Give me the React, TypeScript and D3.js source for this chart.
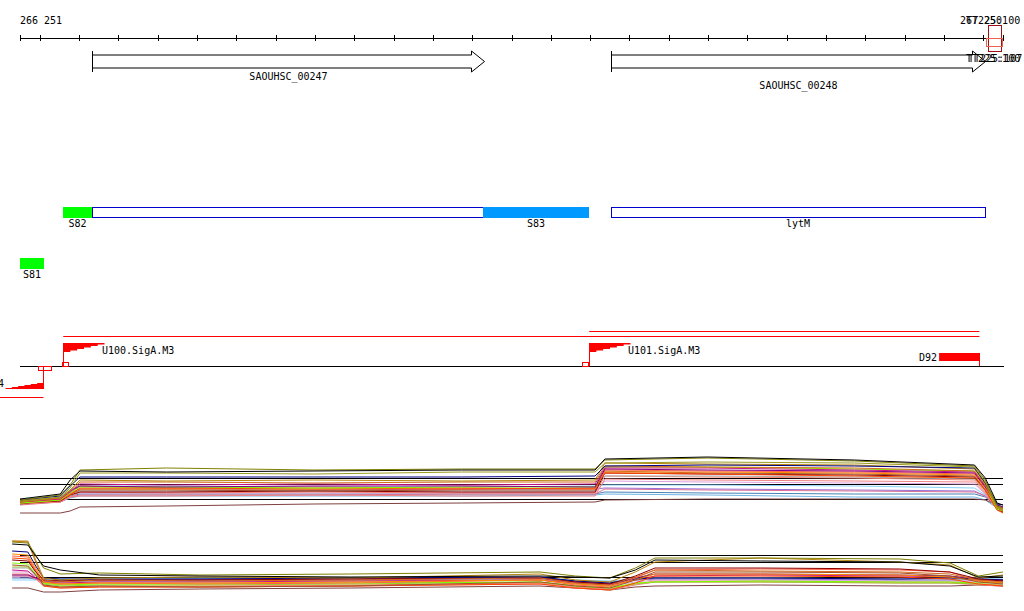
import React from "react";
import * as d3 from "d3";

// ---------- axis / genome ----------
const genomeStart = 266251;
const genomeEnd = 267251;
const startLabel = "266 251";
const endLabel = "267 250";
const markerLabelTop = "TT225:100";
const markerLabelA = "TT225:107";
const markerLabelB = "TT225:100";

// ---------- genes (start, end, label) ----------
const geneNames = ["SAOUHSC_00247", "SAOUHSC_00248"];
const geneStarts = [266324, 266852];
const geneEnds = [266723, 267233];
const geneLabelRows = [0, 1];

// ---------- transcript segments ----------
const segNames = ["S82", "", "S83", "lytM", "S81"];
const segStarts = [266295, 266324, 266722, 266852, 266251];
const segEnds = [266324, 266722, 266830, 267233, 266275];
const segFills = ["#00ff00", "#ffffff", "#0099ff", "#ffffff", "#00ff00"];
const segRows = [0, 0, 0, 0, 1];

// ---------- promoters / terminators ----------
const promoterNames = ["U100.SigA.M3", "U101.SigA.M3"];
const promoterPos = [266295, 266830];
const terminatorName = "D92";
const terminatorStart = 267186;
const terminatorEnd = 267227;
const revPromoterName = "4";
const revPromoterPos = 266274;
const redSpanStarts = [266295, 266830];
const redSpanEnds = [267227, 267227];

// ---------- expression panel 1 ----------
const p1Pos = [266251, 266292, 266302, 266312, 266400, 266550, 266700, 266836, 266846, 266950, 267100, 267222, 267233, 267245, 267251];
const p1Olive = [20, 25, 35, 50, 52, 50, 51, 51, 60, 62, 59, 54, 40, 14, 12];
const p1Black = [21, 26, 40, 49, 48, 49, 50, 50, 61, 63, 60, 55, 42, 17, 15];
const p1OliveDrab = [19, 23, 32, 47, 47, 46, 48, 48, 57, 58, 57, 53, 38, 13, 10];
const p1Navy = [20, 24, 34, 43, 43, 43, 43, 44, 54, 55, 54, 52, 37, 16, 15];
const p1Gold = [18, 22, 30, 40, 39, 40, 39, 40, 57, 56, 55, 51, 36, 12, 9];
const p1Chocolate = [19, 22, 29, 38, 38, 37, 38, 38, 54, 53, 52, 49, 35, 13, 11];
const p1Crimson = [18, 21, 28, 36, 35, 36, 35, 36, 52, 52, 50, 48, 34, 14, 12];
const p1Purple = [19, 22, 29, 34, 33, 34, 34, 33, 51, 50, 49, 47, 33, 15, 13];
const p1Lawn = [17, 20, 27, 33, 33, 32, 33, 33, 53, 53, 51, 49, 34, 11, 9];
const p1Tomato = [18, 21, 27, 34, 32, 33, 32, 31, 50, 49, 48, 46, 32, 12, 10];
const p1Orange = [17, 20, 26, 31, 31, 31, 32, 31, 48, 48, 47, 45, 31, 13, 11];
const p1Sienna = [16, 20, 26, 30, 30, 29, 30, 30, 49, 47, 46, 44, 30, 12, 10];
const p1DarkRed = [17, 19, 25, 28, 28, 29, 28, 28, 47, 46, 45, 43, 30, 11, 8];
const p1Sky = [20, 23, 30, 34, 34, 33, 33, 34, 35, 35, 34, 32, 25, 15, 13];
const p1Grey = [18, 21, 26, 29, 29, 30, 29, 29, 44, 44, 43, 41, 29, 14, 12];
const p1Salmon = [16, 18, 23, 28, 27, 28, 27, 27, 44, 43, 42, 40, 28, 11, 9];
const p1Lilac = [19, 22, 27, 31, 31, 30, 31, 31, 32, 31, 30, 29, 24, 14, 12];
const p1Steel = [17, 20, 24, 26, 26, 26, 26, 26, 28, 27, 26, 26, 23, 13, 11];
const p1LightBlue = [16, 18, 22, 24, 24, 24, 24, 25, 26, 25, 23, 23, 20, 12, 10];
const p1Pink = [15, 18, 23, 25, 25, 25, 26, 26, 31, 30, 29, 28, 24, 11, 8];
const p1Coral = [16, 19, 23, 24, 24, 25, 24, 24, 41, 40, 39, 38, 27, 10, 8];
const p1Brown = [7, 7, 9, 13, 14, 16, 17, 18, 20, 21, 21, 21, 20, 15, 13];
const p1OrangeRed = [18, 20, 25, 32, 32, 31, 31, 32, 47, 46, 44, 42, 30, 10, 7];
const p1Plum = [17, 20, 25, 27, 27, 27, 27, 27, 39, 38, 37, 36, 26, 12, 9];
const p1RefLines = [42, 36, 21];

// ---------- expression panel 2 ----------
const p2Pos = [266243, 266259, 266267, 266275, 266292, 266332, 266434, 266587, 266780, 266816, 266851, 266877, 266897, 267004, 267146, 267197, 267226, 267251];
const p2Olive = [58, 57, 45, 32, 26, 27, 25, 26, 28, 24, 22, 32, 42, 42, 41, 37, 24, 28];
const p2Black = [56, 55, 44, 34, 30, 25, 24, 23, 24, 23, 22, 30, 40, 39, 38, 34, 23, 24];
const p2Gold = [59, 59, 40, 22, 20, 22, 23, 22, 26, 20, 18, 28, 38, 42, 38, 35, 22, 25];
const p2Chocolate = [59, 58, 38, 20, 18, 20, 19, 20, 22, 17, 15, 23, 30, 29, 28, 26, 20, 18];
const p2Navy = [49, 48, 34, 22, 21, 21, 21, 22, 23, 19, 17, 21, 22, 22, 21, 22, 21, 20];
const p2Tomato = [44, 43, 30, 18, 16, 17, 16, 17, 20, 15, 13, 22, 30, 31, 30, 28, 19, 17];
const p2Sienna = [35, 34, 25, 15, 13, 14, 13, 14, 18, 14, 12, 20, 28, 28, 27, 24, 18, 16];
const p2Lawn = [37, 36, 26, 17, 15, 16, 16, 17, 18, 14, 12, 17, 18, 19, 18, 18, 17, 18];
const p2Crimson = [30, 29, 22, 18, 17, 18, 18, 19, 20, 17, 15, 20, 24, 25, 24, 23, 20, 19];
const p2Purple = [25, 25, 22, 19, 19, 20, 20, 21, 22, 18, 16, 22, 26, 26, 25, 24, 21, 20];
const p2Sky = [20, 20, 20, 21, 21, 21, 22, 22, 22, 20, 19, 21, 22, 22, 21, 22, 22, 21];
const p2Steel = [22, 22, 21, 20, 20, 20, 21, 21, 22, 19, 18, 20, 21, 21, 20, 20, 21, 20];
const p2Brown = [12, 12, 10, 8, 8, 10, 11, 12, 14, 12, 10, 13, 14, 15, 14, 14, 15, 14];
const p2Plum = [28, 28, 24, 17, 16, 17, 17, 18, 20, 16, 14, 18, 20, 20, 19, 19, 18, 17];
const p2YellowGreen = [33, 33, 26, 16, 14, 15, 15, 16, 18, 14, 12, 16, 18, 18, 17, 17, 16, 16];
const p2Salmon = [26, 26, 22, 15, 13, 14, 14, 15, 17, 13, 11, 16, 19, 19, 18, 18, 16, 15];
const p2Grey = [32, 32, 24, 19, 18, 19, 19, 19, 21, 18, 16, 20, 22, 22, 21, 21, 20, 19];
const p2Orange = [46, 45, 32, 18, 16, 17, 17, 18, 20, 16, 14, 20, 26, 26, 25, 23, 19, 17];
const p2Coral = [24, 24, 21, 14, 12, 13, 13, 14, 16, 12, 10, 15, 18, 18, 17, 17, 15, 14];
const p2DarkRed = [40, 39, 28, 20, 19, 20, 20, 21, 22, 18, 16, 24, 32, 32, 31, 28, 21, 19];
const p2Lilac = [23, 23, 21, 19, 19, 19, 19, 20, 21, 18, 17, 20, 21, 21, 20, 20, 20, 19];
const p2OrangeRed = [42, 41, 29, 14, 12, 13, 13, 14, 16, 12, 10, 17, 24, 24, 23, 21, 16, 14];
const p2RefLines = [45, 38, 23];

const p1Series = [
  { c: "#87cefa", v: p1Sky }, { c: "#6cb4e6", v: p1LightBlue }, { c: "#4682b4", v: p1Steel },
  { c: "#9370db", v: p1Lilac }, { c: "#db7093", v: p1Pink }, { c: "#804040", v: p1Brown },
  { c: "#dda0dd", v: p1Plum }, { c: "#f08080", v: p1Coral }, { c: "#fa8072", v: p1Salmon },
  { c: "#a9a9a9", v: p1Grey }, { c: "#8b0000", v: p1DarkRed }, { c: "#a0522d", v: p1Sienna },
  { c: "#ff8c00", v: p1Orange }, { c: "#ff6347", v: p1Tomato }, { c: "#ff4500", v: p1OrangeRed },
  { c: "#7cfc00", v: p1Lawn }, { c: "#800080", v: p1Purple }, { c: "#c71585", v: p1Crimson },
  { c: "#d2691e", v: p1Chocolate }, { c: "#b8860b", v: p1Gold }, { c: "#000080", v: p1Navy },
  { c: "#9a9a20", v: p1OliveDrab }, { c: "#808000", v: p1Olive }, { c: "#000000", v: p1Black },
];

const p2Series = [
  { c: "#804040", v: p2Brown }, { c: "#87cefa", v: p2Sky }, { c: "#4682b4", v: p2Steel },
  { c: "#9370db", v: p2Lilac }, { c: "#f08080", v: p2Coral }, { c: "#fa8072", v: p2Salmon },
  { c: "#dda0dd", v: p2Plum }, { c: "#9acd32", v: p2YellowGreen }, { c: "#a9a9a9", v: p2Grey },
  { c: "#7cfc00", v: p2Lawn }, { c: "#800080", v: p2Purple }, { c: "#c71585", v: p2Crimson },
  { c: "#000080", v: p2Navy }, { c: "#ff4500", v: p2OrangeRed }, { c: "#ff6347", v: p2Tomato },
  { c: "#ff8c00", v: p2Orange }, { c: "#a0522d", v: p2Sienna }, { c: "#8b0000", v: p2DarkRed },
  { c: "#d2691e", v: p2Chocolate }, { c: "#b8860b", v: p2Gold }, { c: "#808000", v: p2Olive },
  { c: "#000000", v: p2Black },
];

const W = 1024;
const H = 611;
const FONT = "DejaVu Sans Mono";

const x = d3.scaleLinear().domain([genomeStart, genomeEnd]).range([20, 1003]);
const y1 = d3.scaleLinear().domain([0, 60]).range([520, 460]);
const y2 = d3.scaleLinear().domain([0, 60]).range([600, 540]);

const tickValues = [genomeStart, ...d3.range(genomeStart + 20, genomeEnd - 10, 40), genomeEnd];

function flagPath(x0: number, top: number, w: number, h: number, dir: number) {
  // stepped triangular flag; dir=1 to the right (top edge), dir=-1 to the left (bottom edge)
  const n = 6;
  let p = "";
  if (dir > 0) {
    p = `M${x0},${top}H${x0 + w}`;
    for (let k = 1; k <= n; k++) {
      const yy = top + (k * h) / n;
      const xx = x0 + w - (k * w) / n;
      p += `V${yy}H${xx}`;
    }
    p += "Z";
  } else {
    p = `M${x0},${top + h}H${x0 - w}`;
    for (let k = 1; k <= n; k++) {
      const yy = top + h - (k * h) / n;
      const xx = x0 - w + (k * w) / n;
      p += `V${yy}H${xx}`;
    }
    p += "Z";
  }
  return p;
}

function genePath(x0: number, x1: number) {
  const top = 55, bot = 68, htop = 51, hbot = 72, mid = 61.5;
  const hx = x1 - 13;
  return `M${x0},${top}H${hx}V${htop}L${x1},${mid}L${hx},${hbot}V${bot}H${x0}Z`;
}

export default function App() {
  const line1 = d3.line<number>().x((_, i) => x(p1Pos[i])).y((d) => y1(d));
  const line2 = d3.line<number>().x((_, i) => x(p2Pos[i])).y((d) => y2(d));
  const txt = { fontFamily: FONT, fontSize: 10, fill: "#000" } as const;

  return (
    <svg width={W} height={H} style={{ position: "absolute", left: 0, top: 0, background: "#fff" }}>
      <rect width={W} height={H} fill="#fff" />
      {/* axis */}
      <line x1={x(genomeStart)} x2={x(genomeEnd)} y1={38.5} y2={38.5} stroke="#000" />
      {tickValues.map((t, i) => (
        <line key={i} x1={Math.round(x(t)) + 0.5} x2={Math.round(x(t)) + 0.5} y1={35} y2={41} stroke="#000" />
      ))}
      <text x={20} y={24} {...txt}>{startLabel}</text>
      <text x={960} y={24} {...txt}>{endLabel}</text>
      <text x={966} y={24} {...txt}>{markerLabelTop}</text>

      {/* marker boxes at right */}
      <rect x={988.5} y={25.5} width={13} height={26} fill="none" stroke="#a01010" />
      <rect x={986.5} y={38.5} width={16} height={8} fill="none" stroke="#f06050" />

      {/* genes */}
      {geneNames.map((g, i) => {
        const x0 = Math.round(x(geneStarts[i])) + 0.5;
        const x1 = Math.round(x(geneEnds[i])) + 0.5;
        return (
          <g key={g}>
            <path d={genePath(x0, x1)} fill="#fff" stroke="#000" />
            <line x1={x0} x2={x0} y1={51} y2={72} stroke="#000" />
            <text x={(x0 + x1) / 2} y={geneLabelRows[i] ? 89 : 80} textAnchor="middle" {...txt}>{g}</text>
          </g>
        );
      })}
      <text x={968} y={62} {...txt}>{markerLabelA}</text>
      <text x={966} y={62} {...txt}>{markerLabelB}</text>

      {/* segments */}
      {segNames.map((s, i) => {
        const x0 = Math.round(x(segStarts[i]));
        const x1 = Math.round(x(segEnds[i]));
        const top = segRows[i] ? 258 : 207;
        const blue = segFills[i] === "#ffffff";
        return (
          <g key={i}>
            {blue ? (
              <rect x={x0 + 0.5} y={top + 0.5} width={x1 - x0} height={10} fill="#fff" stroke="#0000cc" />
            ) : (
              <rect x={x0} y={top} width={x1 - x0} height={11} fill={segFills[i]} />
            )}
            {s && (
              <text x={(x0 + x1) / 2} y={top + 20} textAnchor="middle" {...txt}>{s}</text>
            )}
          </g>
        );
      })}

      {/* promoter track */}
      {redSpanStarts.map((s, i) => (
        <line key={i} x1={x(s)} x2={x(redSpanEnds[i])} y1={i === 0 ? 336.5 : 331.5} y2={i === 0 ? 336.5 : 331.5} stroke="#ff0000" />
      ))}
      <line x1={20} x2={1004} y1={366.5} y2={366.5} stroke="#000" />
      {promoterNames.map((p, i) => {
        const px = Math.round(x(promoterPos[i])) + 0.5;
        return (
          <g key={p}>
            <line x1={px} x2={px} y1={343} y2={366} stroke="#ff0000" />
            <path d={flagPath(px, 343, 41, 9, 1)} fill="#ff0000" />
            <rect x={i === 0 ? px - 1 : px - 7} y={362.5} width={6} height={4} fill="none" stroke="#ff0000" />
            <text x={px + 38.5} y={354} {...txt}>{p}</text>
          </g>
        );
      })}
      <rect x={x(terminatorStart)} y={353} width={x(terminatorEnd) - x(terminatorStart)} height={8} fill="#ff0000" />
      <line x1={Math.round(x(terminatorEnd)) + 0.5} x2={Math.round(x(terminatorEnd)) + 0.5} y1={353} y2={366} stroke="#ff0000" />
      <text x={x(terminatorStart) - 2} y={361} textAnchor="end" {...txt}>{terminatorName}</text>
      {(() => {
        const rx = Math.round(x(revPromoterPos)) + 0.5;
        return (
          <g>
            <line x1={rx} x2={rx} y1={367} y2={389} stroke="#ff0000" />
            <path d={flagPath(rx, 383, 38, 6, -1)} fill="#ff0000" />
            <rect x={38.5} y={366.5} width={13} height={4} fill="none" stroke="#ff0000" />
            <line x1={0} x2={rx} y1={397.5} y2={397.5} stroke="#ff0000" />
            <text x={-2} y={387} {...txt}>{revPromoterName}</text>
          </g>
        );
      })()}

      {/* expression panel 1 */}
      {p1RefLines.map((r, i) => (
        <line key={i} x1={20} x2={1003} y1={Math.round(y1(r)) + 0.5} y2={Math.round(y1(r)) + 0.5} stroke="#000" />
      ))}
      {p1Series.map((s, i) => (
        <path key={i} d={line1(s.v) || ""} fill="none" stroke={s.c} strokeWidth={1} />
      ))}

      {/* expression panel 2 */}
      {p2RefLines.map((r, i) => (
        <line key={i} x1={20} x2={1003} y1={Math.round(y2(r)) + 0.5} y2={Math.round(y2(r)) + 0.5} stroke="#000" />
      ))}
      {p2Series.map((s, i) => (
        <path key={i} d={line2(s.v) || ""} fill="none" stroke={s.c} strokeWidth={1} />
      ))}
    </svg>
  );
}
